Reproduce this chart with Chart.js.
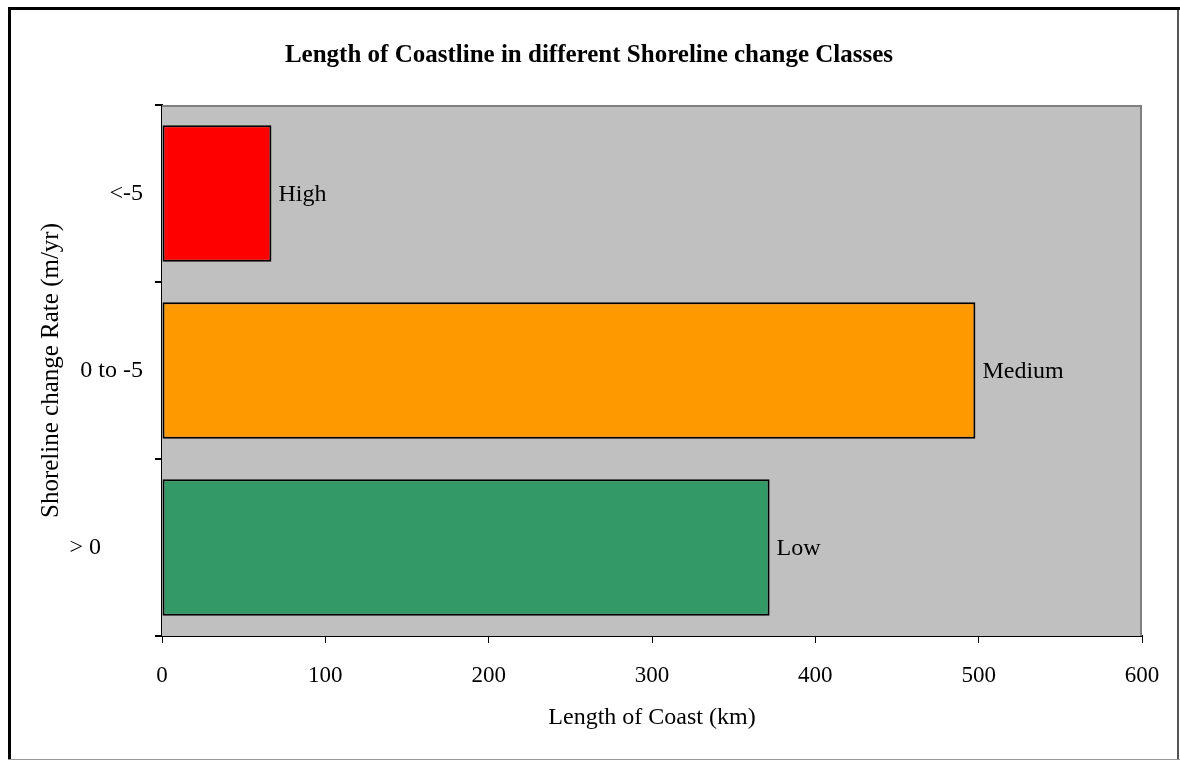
<!DOCTYPE html>
<html>
<head>
<meta charset="utf-8">
<title>Length of Coastline in different Shoreline change Classes</title>
<script src="https://cdn.jsdelivr.net/npm/chart.js@4.4.1/dist/chart.umd.min.js"></script>
<style>
  html, body { margin: 0; padding: 0; background: #ffffff; }
  #wrap { width: 1180px; height: 760px; position: relative; }
</style>
</head>
<body>
<div id="wrap"><canvas id="chart" width="1180" height="760"></canvas></div>
<script>
// Shoreline change rate classes (m/yr), top to bottom
const rateClasses = ['<-5', '0 to -5', '> 0       '];
// Length of coast in each class (km)
const coastLengthKm = [67, 498, 372];
// Class names written beside each bar
const classNames = ['High', 'Medium', 'Low'];
const barColors = ['#FF0000', '#FF9900', '#339966'];
// Horizontal axis ticks (km)
const kmTicks = [0, 100, 200, 300, 400, 500, 600];

const SERIF = '"Liberation Serif", "Times New Roman", serif';

// White page with the framed border
const framePlugin = {
  id: 'frame',
  beforeDraw(chart) {
    const ctx = chart.ctx;
    ctx.save();
    ctx.fillStyle = '#ffffff';
    ctx.fillRect(0, 0, chart.width, chart.height);
    ctx.fillStyle = '#000000';
    ctx.fillRect(8, 7, chart.width - 8, 3);
    ctx.fillRect(8, 7, 3, chart.height - 7);
    ctx.fillStyle = '#555555';
    ctx.fillRect(1177, 10, 2, chart.height - 10);
    ctx.fillStyle = '#9a9a9a';
    ctx.fillRect(8, 759, chart.width - 8, 1);
    ctx.restore();
  }
};

// Grey plot area with its top and right edges
const plotAreaPlugin = {
  id: 'plotArea',
  beforeDatasetsDraw(chart) {
    const { ctx, chartArea: a } = chart;
    ctx.save();
    ctx.fillStyle = '#C0C0C0';
    ctx.fillRect(a.left, a.top, a.right - a.left, a.bottom - a.top);
    ctx.strokeStyle = '#808080';
    ctx.lineWidth = 2;
    ctx.beginPath();
    ctx.moveTo(a.left, a.top + 1);
    ctx.lineTo(a.right - 1, a.top + 1);
    ctx.lineTo(a.right - 1, a.bottom);
    ctx.stroke();
    ctx.restore();
  }
};

// Class name beside the end of each bar
const classLabelPlugin = {
  id: 'classLabels',
  afterDatasetsDraw(chart) {
    const ctx = chart.ctx;
    const meta = chart.getDatasetMeta(0);
    ctx.save();
    ctx.font = '24px ' + SERIF;
    ctx.fillStyle = '#000000';
    ctx.textAlign = 'left';
    ctx.textBaseline = 'middle';
    meta.data.forEach((bar, i) => {
      ctx.fillText(classNames[i], bar.x + 7, bar.y + 1);
    });
    ctx.restore();
  }
};

new Chart(document.getElementById('chart'), {
  type: 'bar',
  data: {
    labels: rateClasses,
    datasets: [{
      data: coastLengthKm,
      backgroundColor: barColors,
      borderColor: '#000000',
      borderWidth: 2,
      borderSkipped: false,
      barPercentage: 0.77,
      categoryPercentage: 1.0
    }]
  },
  options: {
    indexAxis: 'y',
    responsive: false,
    animation: false,
    devicePixelRatio: 1,
    layout: { padding: { left: 36, right: 38, top: 0, bottom: 0 } },
    plugins: {
      legend: { display: false },
      tooltip: { enabled: false },
      title: {
        display: true,
        text: 'Length of Coastline in different Shoreline change Classes',
        color: '#000000',
        font: { family: SERIF, size: 25, weight: 'bold', lineHeight: 1.2 },
        padding: { top: 41, bottom: 34 }
      }
    },
    scales: {
      x: {
        type: 'linear',
        min: kmTicks[0],
        max: kmTicks[kmTicks.length - 1],
        afterBuildTicks(scale) { scale.ticks = kmTicks.map(v => ({ value: v })); },
        afterFit(scale) { scale.height = 124; },
        ticks: {
          color: '#000000',
          font: { family: SERIF, size: 23 },
          padding: 19,
          maxRotation: 0
        },
        grid: { drawOnChartArea: false, drawTicks: true, tickLength: 7, color: '#000000', lineWidth: 1 },
        border: { display: true, color: '#000000', width: 2 },
        title: {
          display: true,
          text: 'Length of Coast (km)',
          color: '#000000',
          font: { family: SERIF, size: 24, lineHeight: 1.2 },
          padding: { top: 0, bottom: 28 }
        }
      },
      y: {
        afterFit(scale) { scale.width = 126; },
        ticks: {
          color: '#000000',
          font: { family: SERIF, size: 24 },
          padding: 12
        },
        grid: { drawOnChartArea: false, drawTicks: true, tickLength: 7, color: '#000000', lineWidth: 2, offset: true },
        border: { display: true, color: '#000000', width: 2 },
        title: {
          display: true,
          text: 'Shoreline change Rate (m/yr)',
          color: '#000000',
          font: { family: SERIF, size: 25, lineHeight: 1.2 },
          padding: { top: 0, bottom: 0 }
        }
      }
    }
  },
  plugins: [framePlugin, plotAreaPlugin, classLabelPlugin]
});
</script>
</body>
</html>
